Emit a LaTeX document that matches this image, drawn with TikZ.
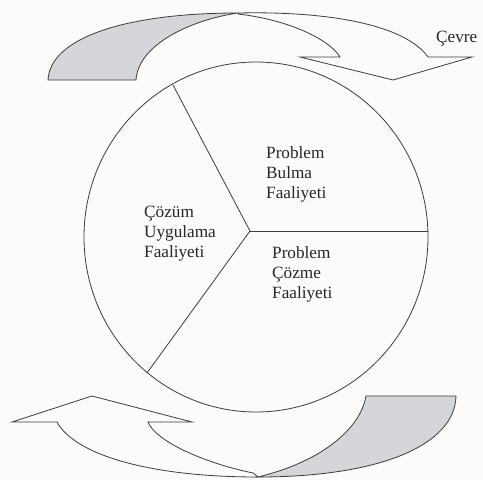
\documentclass[tikz,border=0pt]{standalone}
\usepackage{fontspec}
\setmainfont{Liberation Serif}
\usetikzlibrary{positioning}

\definecolor{paper}{RGB}{253,251,249}
\definecolor{ink}{RGB}{60,60,60}
\definecolor{shade}{RGB}{212,214,217}

\tikzset{
  band/.style={draw=ink, line width=0.8pt, fill=paper, line join=miter},
  back/.style={draw=ink, line width=0.8pt, fill=shade},
  lbl/.style={anchor=base west, align=left, inner sep=0pt,
    font=\fontsize{17.2}{20}\selectfont, text=black!85}
}

\begin{document}
\begin{tikzpicture}[x=1pt, y=-1pt]
  \useasboundingbox[fill=paper] (0,0) rectangle (483,480);

  % Upper arrow: shaded back part, then front band with head
  \draw[back] (48,80) .. controls (50,38) and (125,13) .. (238,13)
    .. controls (190,20) and (138,45) .. (136,80) -- cycle;
  \draw[band] (238,13) .. controls (330,11) and (405,25) .. (428,57)
    -- (472,57) -- (393,80) -- (300,57) -- (340,57)
    .. controls (330,40) and (290,20) .. (238,14) -- cycle;

  % Lower arrow
  \draw[back] (456,396) .. controls (455,445) and (380,477) .. (258,477)
    .. controls (320,462) and (360,430) .. (366,396) -- cycle;
  \draw[band] (258,477) .. controls (150,477) and (75,455) .. (57,422)
    -- (12,422) -- (92,396) -- (192,422) -- (148,422)
    .. controls (155,440) and (200,462) .. (253,473) -- cycle;

  % The circle and its three sectors
  \draw[ink, line width=0.8pt] (256,237) ellipse [x radius=172, y radius=175];
  \coordinate (c) at (250,231);
  \coordinate (s1) at (173,85);
  \coordinate (s2) at (428,231);
  \coordinate (s3) at (147,373);
  \foreach \s in {s1,s2,s3}
    \draw[ink, line width=0.8pt] (c) -- (\s);

  % Labels (base = last line)
  \node[lbl] (bulma) at (266,198) {Problem\\Bulma\\Faaliyeti};
  \node[lbl] (uygulama) at (144,257) {Çözüm\\Uygulama\\Faaliyeti};
  \node[lbl] (cozme) at (272,298) {Problem\\Çözme\\Faaliyeti};
  \node[lbl] (cevre) at (436,42) {Çevre};
\end{tikzpicture}
\end{document}
